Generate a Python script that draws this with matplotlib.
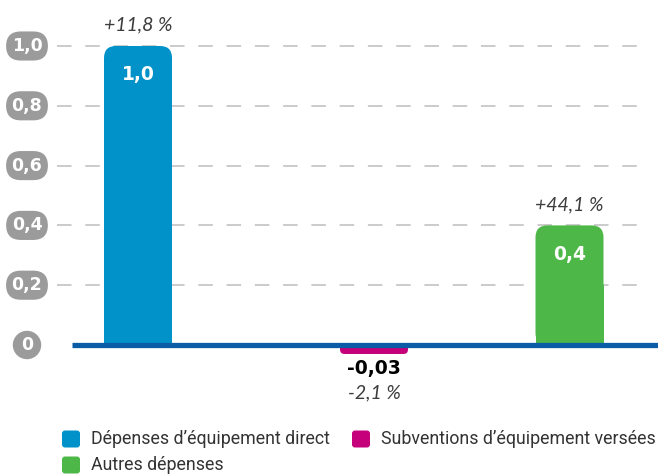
import matplotlib
matplotlib.use("Agg")
import matplotlib.pyplot as plt
from matplotlib.patches import FancyBboxPatch

# values (millions) and evolution labels
series = ["Dépenses d’équipement direct", "Subventions d’équipement versées", "Autres dépenses"]
values = [1.0, -0.03, 0.4]
value_labels = ["1,0", "-0,03", "0,4"]
change_labels = ["+11,8 %", "-2,1 %", "+44,1 %"]
colors = ["#0092c8", "#c5007a", "#4db848"]
yticks = [0, 0.2, 0.4, 0.6, 0.8, 1.0]
ytick_labels = ["0", "0,2", "0,4", "0,6", "0,8", "1,0"]

# horizontal placement of the bars (axis units = pixels)
xpos = [138, 374, 569.5]
bar_w = 68

W, H = 658, 475
fig = plt.figure(figsize=(W / 100, H / 100), dpi=100)
ax = fig.add_axes([0, 0, 1, 1])
px = 1 / 299.0  # one pixel in y data units
ax.set_xlim(0, W)
ax.set_ylim(-130 * px, 345 * px)
ax.axis("off")

grey_txt = "#333333"

# dashed grid
for t in yticks[1:]:
    ax.plot([57, 642], [t, t], color="#bdbdbd", lw=1.1, dashes=(9.5, 9), zorder=1)

# tick pills
for t, lab in zip(yticks, ytick_labels):
    style = "circle,pad=0.3" if lab == "0" else "round,pad=0.32,rounding_size=0.85"
    ax.text(27, t, lab, ha="center", va="center", color="white", fontsize=12.5,
            fontweight="bold", family="DejaVu Sans",
            bbox=dict(boxstyle=style, fc="#9b9b9b", ec="none"))

# bars with rounded outer end
r = 12
for x, v, c in zip(xpos, values, colors):
    h = abs(v) / px
    rr = min(r, h / 2)
    y0 = 0 if v > 0 else v
    p = FancyBboxPatch((x - bar_w / 2, y0), bar_w, abs(v),
                       boxstyle=f"round,pad=0,rounding_size={rr}",
                       mutation_aspect=px, fc=c, ec="none", zorder=2)
    ax.add_patch(p)
    ax.bar(x, v / 2, width=bar_w, color=c, zorder=2)

# baseline
ax.plot([72, W], [0, 0], color="#0a5ca6", lw=3.8, solid_capstyle="butt", zorder=3)

# value and change labels
pct_font = dict(family="Lato", style="italic", fontweight="normal", fontsize=14, color="#3c3c3c")
for x, v, vl, cl in zip(xpos, values, value_labels, change_labels):
    if v > 0:
        ax.text(x, v - 29 * px, vl, ha="center", va="center", color="white",
                fontsize=13.5, fontweight="bold", family="DejaVu Sans")
        ax.text(x, v + 21 * px, cl, ha="center", va="center", **pct_font)
    else:
        ax.text(x, v - 15 * px, vl, ha="center", va="center", color="black",
                fontsize=13.5, fontweight="bold", family="DejaVu Sans")
        ax.text(x, v - 39 * px, cl, ha="center", va="center", **pct_font)

# legend
leg_xy = [(62, 439), (352, 439), (62, 465)]
for (lx, ly), name, c in zip(leg_xy, series, colors):
    yc = (345 - ly) * px
    ax.add_patch(FancyBboxPatch((lx, yc - 8.5 * px), 18, 17 * px,
                                boxstyle="round,pad=0,rounding_size=3",
                                mutation_aspect=px, fc=c, ec="none"))
    ax.text(lx + 29, yc, name, ha="left", va="center", color=grey_txt,
            fontsize=12.8, family="Roboto", fontweight="normal")

fig.savefig("out.png", dpi=100)
